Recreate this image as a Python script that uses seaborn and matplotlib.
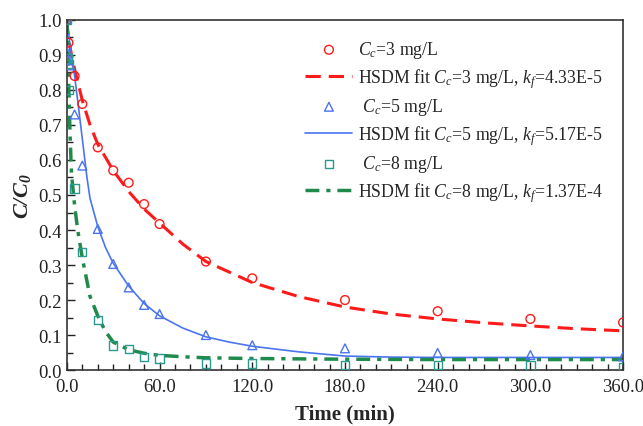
import matplotlib
matplotlib.use("Agg")
import matplotlib.pyplot as plt
import seaborn as sns
import pandas as pd
import numpy as np
from matplotlib.ticker import MultipleLocator, FormatStrFormatter

# ---- data ----
t_3 = [0, 1, 5, 10, 20, 30, 40, 50, 60, 90, 120, 180, 240, 300, 360]
c_3 = [1.0, 0.935, 0.84, 0.76, 0.636, 0.57, 0.535, 0.474, 0.417, 0.31, 0.262, 0.20, 0.168, 0.146, 0.136]

t_5 = [0, 0.5, 1, 2, 5, 10, 20, 30, 40, 50, 60, 90, 120, 180, 240, 300, 360]
c_5 = [1.0, 0.905, 0.885, 0.87, 0.73, 0.584, 0.403, 0.303, 0.236, 0.186, 0.16, 0.10, 0.071, 0.062, 0.049, 0.043, 0.039]

t_8 = [0, 0.5, 1, 1.5, 5, 10, 20, 30, 40, 50, 60, 90, 120, 180, 240, 300, 360]
c_8 = [1.0, 0.89, 0.875, 0.80, 0.519, 0.338, 0.143, 0.07, 0.06, 0.038, 0.033, 0.019, 0.019, 0.014, 0.014, 0.013, 0.008]

tf_3 = [0, 1, 3, 5, 10, 15, 20, 30, 40, 50, 60, 75, 90, 105, 120, 150, 180, 210, 240, 270, 300, 330, 360]
cf_3 = [1.0, 0.95, 0.90, 0.86, 0.77, 0.70, 0.645, 0.57, 0.51, 0.46, 0.42, 0.36, 0.31, 0.28, 0.25, 0.21, 0.18, 0.16, 0.146, 0.135, 0.126, 0.118, 0.112]

tf_5 = [0, 2, 5, 7, 10, 13, 15, 20, 25, 30, 40, 50, 60, 75, 90, 105, 120, 150, 180, 210, 240, 300, 360]
cf_5 = [1.0, 0.93, 0.84, 0.77, 0.66, 0.55, 0.49, 0.41, 0.35, 0.305, 0.24, 0.19, 0.155, 0.12, 0.095, 0.08, 0.068, 0.052, 0.04, 0.037, 0.036, 0.036, 0.036]

tf_8 = [0, 1, 2, 3, 5, 7, 10, 15, 20, 25, 30, 40, 50, 60, 75, 90, 120, 180, 240, 300, 360]
cf_8 = [1.0, 0.85, 0.68, 0.56, 0.47, 0.40, 0.32, 0.21, 0.155, 0.11, 0.08, 0.058, 0.048, 0.042, 0.038, 0.035, 0.033, 0.031, 0.030, 0.030, 0.030]

x_ticks = [0, 60, 120, 180, 240, 300, 360]
y_ticks = [0.0, 0.1, 0.2, 0.3, 0.4, 0.5, 0.6, 0.7, 0.8, 0.9, 1.0]

labels = [
    r"$C_c$=3 mg/L",
    r"HSDM fit $C_c$=3 mg/L, $k_f$=4.33E-5",
    r" $C_c$=5 mg/L",
    r"HSDM fit $C_c$=5 mg/L, $k_f$=5.17E-5",
    r" $C_c$=8 mg/L",
    r"HSDM fit $C_c$=8 mg/L, $k_f$=1.37E-4",
]

red = "#ff1a1a"
blue = "#4a74f0"
green_line = "#1f8a4c"
teal = "#2a9a8e"

sns.set_theme(style="ticks")
plt.rcParams["font.family"] = ["Liberation Serif", "DejaVu Serif"]
plt.rcParams["mathtext.fontset"] = "custom"
plt.rcParams["mathtext.rm"] = "Liberation Serif"
plt.rcParams["mathtext.it"] = "Liberation Serif:italic"
plt.rcParams["mathtext.bf"] = "Liberation Serif:bold"
try:
    plt.rcParams["mathtext.bfit"] = "Liberation Serif:italic:bold"
    has_bfit = True
except Exception:
    has_bfit = False

fig = plt.figure(figsize=(6.43, 4.27), dpi=100)
ax = fig.add_axes([0.104, 0.131, 0.865, 0.820])

d3 = pd.DataFrame({"t": t_3, "c": c_3})
d5 = pd.DataFrame({"t": t_5, "c": c_5})
d8 = pd.DataFrame({"t": t_8, "c": c_8})
f3 = pd.DataFrame({"t": tf_3, "c": cf_3})
f5 = pd.DataFrame({"t": tf_5, "c": cf_5})
f8 = pd.DataFrame({"t": tf_8, "c": cf_8})

sns.lineplot(data=f3, x="t", y="c", ax=ax, color=red, lw=2.2, label=labels[1], sort=False, zorder=2)
sns.lineplot(data=f5, x="t", y="c", ax=ax, color=blue, lw=1.2, label=labels[3], sort=False, zorder=2)
sns.lineplot(data=f8, x="t", y="c", ax=ax, color=green_line, lw=2.5, label=labels[5], sort=False, zorder=2)
lines = ax.get_lines()
lines[0].set_dashes((5, 2.6))
lines[2].set_dashes((4.0, 2.0, 1.2, 2.0))

sns.scatterplot(data=d3, x="t", y="c", ax=ax, marker="o", s=40, facecolors="none",
                edgecolor=red, linewidth=1.0, label=labels[0], zorder=3)
sns.scatterplot(data=d5, x="t", y="c", ax=ax, marker="^", s=40, facecolors="none",
                edgecolor=blue, linewidth=1.0, label=labels[2], zorder=3)
sns.scatterplot(data=d8, x="t", y="c", ax=ax, marker="s", s=36, facecolors="none",
                edgecolor=teal, linewidth=1.0, label=labels[4], zorder=3)

ax.set_xlim(0, 360)
ax.set_ylim(0, 1.0)
ax.set_xticks(x_ticks)
ax.set_yticks(y_ticks)
ax.xaxis.set_major_formatter(FormatStrFormatter("%.1f"))
ax.yaxis.set_major_formatter(FormatStrFormatter("%.1f"))
ax.xaxis.set_minor_locator(MultipleLocator(10))
ax.yaxis.set_minor_locator(MultipleLocator(0.05))
ax.tick_params(which="both", direction="in", labelsize=13.5, colors="#222222", width=1.0)
ax.tick_params(which="major", length=6)
ax.tick_params(which="minor", length=4)
ax.tick_params(axis="x", pad=6)
for sp in ax.spines.values():
    sp.set_visible(True)
    sp.set_color("#333333")
    sp.set_linewidth(1.2)

ax.set_xlabel("Time (min)", fontsize=15, fontweight="bold", labelpad=6)
if has_bfit:
    ylab = r"$\mathbfit{C/C_0}$"
else:
    ylab = r"$C/C_0$"
ax.set_ylabel(ylab, fontsize=16, labelpad=4)

handles, labs = ax.get_legend_handles_labels()
hmap = {l: h for h, l in zip(handles, labs)}
leg = ax.legend([hmap[l] for l in labels], labels, loc="upper left",
                bbox_to_anchor=(0.40, 0.99), frameon=False, fontsize=12.8,
                handlelength=2.65, labelspacing=0.34, handletextpad=0.3)

fig.savefig("out.png", dpi=100)
